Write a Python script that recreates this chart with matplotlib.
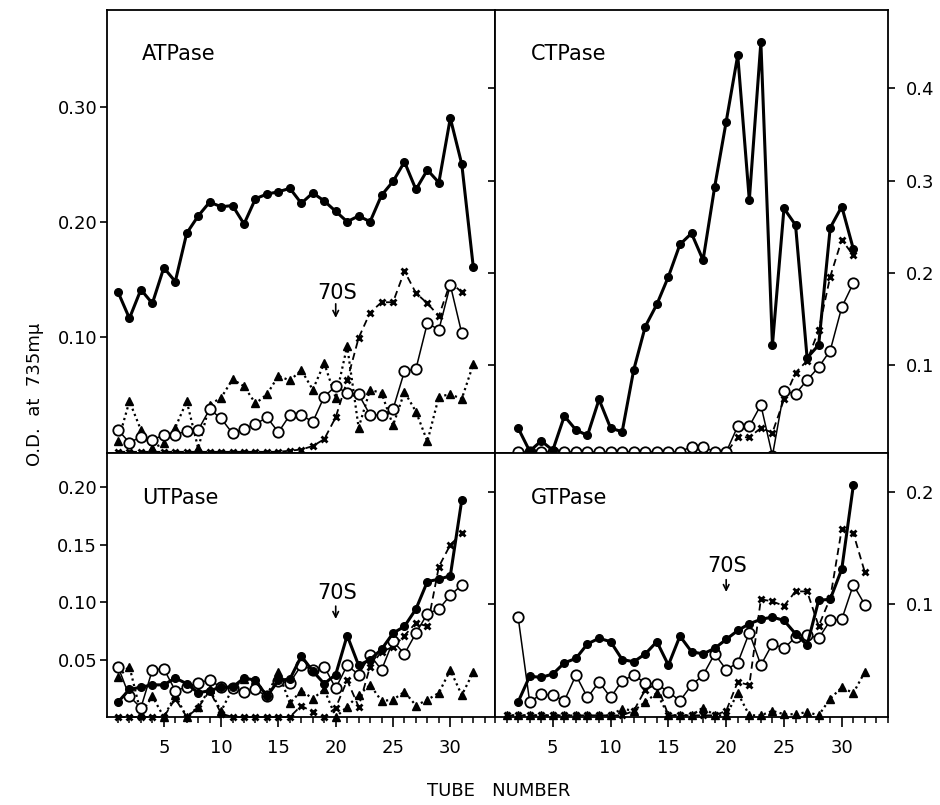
import matplotlib
matplotlib.use('Agg')
import matplotlib.pyplot as plt
from matplotlib.ticker import MultipleLocator, FixedLocator

plt.rcParams['font.family'] = ['DejaVu Sans']

# ATPase (top left)
at_tubes_32 = list(range(1, 33))
at_tubes_31 = list(range(1, 32))
at_filled = [0.139, 0.116, 0.141, 0.129, 0.160, 0.148, 0.190, 0.205, 0.217, 0.213,
             0.214, 0.198, 0.220, 0.224, 0.226, 0.229, 0.216, 0.225, 0.218, 0.209,
             0.200, 0.205, 0.200, 0.223, 0.235, 0.252, 0.228, 0.245, 0.234, 0.290,
             0.250, 0.161]
at_open = [0.019, 0.008, 0.013, 0.010, 0.015, 0.015, 0.018, 0.019, 0.037, 0.029,
           0.016, 0.020, 0.024, 0.030, 0.017, 0.032, 0.032, 0.026, 0.048, 0.057,
           0.051, 0.050, 0.032, 0.032, 0.037, 0.070, 0.072, 0.112, 0.106, 0.145,
           0.103]
at_cross = [0, 0, 0, 0, 0, 0, 0, 0, 0, 0, 0, 0, 0, 0, 0, 0.001, 0.002, 0.005,
            0.011, 0.030, 0.062, 0.099, 0.121, 0.130, 0.130, 0.157, 0.138, 0.129,
            0.118, 0.147, 0.139]
at_tri = [0.009, 0.044, 0.019, 0.003, 0.0075, 0.021, 0.044, 0.003, 0.041, 0.047,
          0.063, 0.057, 0.042, 0.050, 0.066, 0.062, 0.071, 0.054, 0.077, 0.047,
          0.092, 0.021, 0.054, 0.051, 0.023, 0.052, 0.035, 0.009, 0.048, 0.050,
          0.046, 0.076]

# CTPase (top right), tubes 2..31
ct_tubes = list(range(2, 32))
ct_filled = [0.032, 0.007, 0.018, 0.008, 0.045, 0.030, 0.024, 0.063, 0.032, 0.028,
             0.095, 0.142, 0.166, 0.196, 0.231, 0.243, 0.214, 0.293, 0.364, 0.436,
             0.279, 0.450, 0.122, 0.270, 0.252, 0.108, 0.122, 0.249, 0.272, 0.226]
ct_open = [0.006] * 15 + [0.012, 0.012, 0.006, 0.006, 0.034, 0.034, 0.057, 0.002,
                          0.072, 0.069, 0.084, 0.098, 0.116, 0.163, 0.189]
ct_cross = [0.005] * 19 + [0.022, 0.022, 0.032, 0.027, 0.063, 0.092, 0.105, 0.138,
                           0.196, 0.236, 0.219]

# UTPase (bottom left)
ut_tubes_31 = list(range(1, 32))
ut_tubes_32 = list(range(1, 33))
ut_filled = [0.013, 0.024, 0.026, 0.028, 0.028, 0.034, 0.029, 0.021, 0.023, 0.026,
             0.026, 0.034, 0.032, 0.018, 0.032, 0.033, 0.053, 0.040, 0.029, 0.037,
             0.071, 0.045, 0.050, 0.059, 0.073, 0.079, 0.094, 0.118, 0.120, 0.123,
             0.189]
ut_open = [0.044, 0.018, 0.008, 0.041, 0.042, 0.023, 0.026, 0.030, 0.032, 0.026,
           0.025, 0.022, 0.024, 0.018, 0.031, 0.030, 0.045, 0.041, 0.044, 0.025,
           0.045, 0.037, 0.054, 0.041, 0.066, 0.055, 0.073, 0.090, 0.094, 0.106,
           0.115]
ut_cross = [0, 0, 0, 0, 0, 0.016, 0, 0.008, 0.023, 0.003, 0, 0, 0, 0, 0, 0, 0.010,
            0.004, 0, 0.008, 0.032, 0.009, 0.044, 0.057, 0.061, 0.071, 0.082,
            0.079, 0.131, 0.150, 0.160]
ut_tri = [0.035, 0.044, 0.003, 0.018, 0, 0.019, 0, 0.009, 0.024, 0.005, 0.025,
          0.033, 0.032, 0.019, 0.039, 0.012, 0.023, 0.016, 0.024, 0, 0.009, 0.019,
          0.028, 0.014, 0.015, 0.022, 0.010, 0.015, 0.021, 0.041, 0.019, 0.039]

# GTPase (bottom right)
gt_tubes_f = list(range(2, 32))
gt_tubes_o = list(range(2, 33))
gt_tubes_x = list(range(1, 33))
gt_filled = [0.012, 0.035, 0.034, 0.037, 0.047, 0.051, 0.064, 0.069, 0.066, 0.050,
             0.048, 0.055, 0.066, 0.045, 0.071, 0.057, 0.055, 0.060, 0.068, 0.076,
             0.082, 0.086, 0.088, 0.085, 0.073, 0.063, 0.103, 0.104, 0.131, 0.206]
gt_open = [0.088, 0.012, 0.019, 0.018, 0.013, 0.036, 0.016, 0.030, 0.016, 0.031,
           0.036, 0.029, 0.028, 0.021, 0.013, 0.027, 0.036, 0.055, 0.041, 0.047,
           0.074, 0.045, 0.064, 0.060, 0.070, 0.072, 0.069, 0.085, 0.086, 0.117,
           0.099]
gt_cross = [0, 0, 0, 0, 0, 0, 0, 0, 0, 0, 0, 0.004, 0.023, 0.028, 0, 0, 0, 0, 0,
            0.004, 0.030, 0.027, 0.104, 0.102, 0.098, 0.111, 0.111, 0.080, 0.105,
            0.167, 0.163, 0.128]
gt_tri = [0, 0, 0, 0, 0, 0, 0, 0, 0, 0, 0.006, 0.004, 0.012, 0.020, 0, 0, 0, 0.007,
          0, 0, 0.020, 0, 0, 0.004, 0.001, 0.001, 0.003, 0, 0.015, 0.025, 0.020,
          0.039]


def filled(ax, x, y):
    ax.plot(x, y, '-o', color='black', lw=2.2, ms=5.5, zorder=5, clip_on=False)


def hollow(ax, x, y):
    ax.plot(x, y, '-o', color='black', lw=1.1, ms=7.5, mfc='white', mew=1.3,
            zorder=4, clip_on=False)


def cross(ax, x, y):
    ax.plot(x, y, color='black', ls=(0, (4, 2.5)), lw=1.3, marker='x', ms=5,
            mew=2, zorder=3, clip_on=False)


def tri(ax, x, y):
    ax.plot(x, y, color='black', ls=(0, (1, 1.5)), lw=1.6, marker='^', ms=6,
            zorder=2, clip_on=False)


def setup(ax, xlim, ylim, yticks, ylabels, side, xlabels):
    ax.set_xlim(*xlim)
    ax.set_ylim(*ylim)
    ax.xaxis.set_major_locator(FixedLocator([5, 10, 15, 20, 25, 30]))
    ax.xaxis.set_minor_locator(MultipleLocator(1))
    ax.tick_params(axis='x', which='major', direction='out', length=7, width=1.2,
                   pad=9, labelsize=13, labelbottom=xlabels)
    ax.tick_params(axis='x', which='minor', direction='out', length=4, width=1.1)
    ax.set_yticks(yticks)
    ax.set_yticklabels(ylabels)
    if side == 'left':
        ax.tick_params(axis='y', direction='out', length=5, width=1.2, pad=2,
                       labelsize=13, left=True, right=False)
    else:
        ax.tick_params(axis='y', direction='out', length=5, width=1.2, pad=8,
                       labelsize=13, left=True, right=True, labelleft=False,
                       labelright=True)
    for s in ax.spines.values():
        s.set_linewidth(1.3)


def tag(ax, name, y):
    ax.text(0.09, y, name, transform=ax.transAxes, fontsize=15, va='center')


def arrow70(ax, x, ytxt, ytop, ybot):
    ax.text(x + 0.1, ytxt, '70S', ha='center', va='center', fontsize=15)
    ax.annotate('', xy=(x, ybot), xytext=(x, ytop),
                arrowprops=dict(arrowstyle='->', lw=1.2, color='black'))


fig = plt.figure(figsize=(9.4, 8.05), dpi=100)
ax1 = fig.add_axes([0.1138, 0.4373, 0.4128, 0.5503])
ax2 = fig.add_axes([0.5266, 0.4373, 0.4181, 0.5503])
ax3 = fig.add_axes([0.1138, 0.1093, 0.4128, 0.3280])
ax4 = fig.add_axes([0.5266, 0.1093, 0.4181, 0.3280])

tri(ax1, at_tubes_32, at_tri)
cross(ax1, at_tubes_31, at_cross)
hollow(ax1, at_tubes_31, at_open)
filled(ax1, at_tubes_32, at_filled)
setup(ax1, (0.04, 33.9), (-0.001, 0.384), [0.1, 0.2, 0.3],
      ['0.10', '0.20', '0.30'], 'left', False)
tag(ax1, 'ATPase', 0.9)
arrow70(ax1, 20, 0.138, 0.131, 0.114)

cross(ax2, ct_tubes, ct_cross)
hollow(ax2, ct_tubes, ct_open)
filled(ax2, ct_tubes, ct_filled)
setup(ax2, (0.0, 34.0), (0.005, 0.485), [0.1, 0.2, 0.3, 0.4],
      ['0.1', '0.2', '0.3', '0.4'], 'right', False)
tag(ax2, 'CTPase', 0.9)

tri(ax3, ut_tubes_32, ut_tri)
cross(ax3, ut_tubes_31, ut_cross)
hollow(ax3, ut_tubes_31, ut_open)
filled(ax3, ut_tubes_31, ut_filled)
setup(ax3, (0.04, 33.9), (0.0, 0.23), [0.05, 0.10, 0.15, 0.20],
      ['0.05', '0.10', '0.15', '0.20'], 'left', True)
tag(ax3, 'UTPase', 0.83)
arrow70(ax3, 20, 0.108, 0.099, 0.083)

tri(ax4, gt_tubes_x, gt_tri)
cross(ax4, gt_tubes_x, gt_cross)
hollow(ax4, gt_tubes_o, gt_open)
filled(ax4, gt_tubes_f, gt_filled)
setup(ax4, (0.0, 34.0), (-0.0015, 0.235), [0.1, 0.2], ['0.1', '0.2'],
      'right', True)
tag(ax4, 'GTPase', 0.83)
arrow70(ax4, 20, 0.134, 0.124, 0.108)

fig.text(0.037, 0.51, 'O.D.  at  735mμ', rotation=90, ha='center', va='center',
         fontsize=13)
fig.text(0.53, 0.018, 'TUBE   NUMBER', ha='center', va='center', fontsize=13)

fig.savefig('out.png', dpi=100, facecolor='white')
